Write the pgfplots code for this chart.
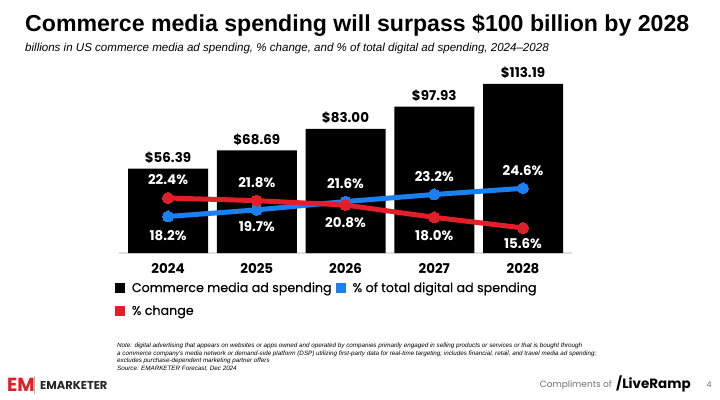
\documentclass[border=0pt]{standalone}
\usepackage{pgfplots}
\pgfplotsset{compat=1.18}
\usepackage{pgfplotstable}
\usepackage{fontspec}
\setmainfont{Poppins}
\newfontfamily\popmed[FakeBold=0.35]{Poppins}
\newfontfamily\arial{Liberation Sans}
\definecolor{emred}{RGB}{226,30,40}
\definecolor{emblue}{RGB}{26,128,240}
\pgfplotstableread{
x y lab dy
0 18.2 18.2 -19
1 19.7 19.7 -17
2 21.6 21.6 18
3 23.2 23.2 18
4 24.6 24.6 18
}\bluetable
\pgfplotstableread{
x y lab dy
0 22.4 22.4 18
1 21.8 21.8 18
2 20.8 20.8 -18
3 18.0 18.0 -18
4 15.6 15.6 -16
}\redtable
\begin{document}
\begin{tikzpicture}[x=1bp,y=1bp]
\path[use as bounding box, fill=white] (0,0) rectangle (720,399);
\node[anchor=base west, inner sep=0, font=\arial\bfseries\fontsize{23.2}{25}\selectfont] at (25,368) {Commerce media spending will surpass \$100 billion by 2028};
\node[anchor=base west, inner sep=0, font=\arial\itshape\fontsize{11.6}{13}\selectfont] at (25,348) {billions in US commerce media ad spending, \% change, and \% of total digital ad spending, 2024–2028};

\begin{axis}[at={(119.2bp,146bp)}, anchor=south west, scale only axis,
  width=452.6bp, height=170bp,
  xmin=-0.55, xmax=4.55, ymin=0, ymax=113.7, clip=false,
  axis x line*=bottom, hide y axis,
  x axis line style={-, draw=black!12, line width=1.2bp},
  xtick={0,1,2,3,4},
  xticklabels={2024,2025,2026,2027,2028},
  major tick length=0,
  xticklabel style={anchor=base, yshift=-20bp, font=\bfseries\fontsize{13.5}{15}\selectfont, inner sep=0},
  ybar, bar width=80bp,
  point meta=explicit symbolic,
  nodes near coords={\$\pgfplotspointmeta},
  every node near coord/.append style={anchor=base, yshift=6bp, font=\bfseries\fontsize{13.5}{15}\selectfont, text=black, inner sep=0},
]
\addplot[fill=black, draw=none] coordinates {(0,56.39) [56.39] (1,68.69) [68.69] (2,83.00) [83.00] (3,97.93) [97.93] (4,113.19) [113.19]};
\end{axis}

\begin{axis}[at={(119.2bp,146bp)}, anchor=south west, scale only axis,
  width=452.6bp, height=170bp,
  xmin=-0.55, xmax=4.55, ymin=9.9, ymax=48.54, clip=false,
  hide axis,
  point meta=explicit symbolic,
  visualization depends on={\thisrow{dy} \as \dy},
  nodes near coords={\pgfplotspointmeta\%},
  every node near coord/.append style={anchor=center, yshift=\dy bp, font=\bfseries\fontsize{13.5}{15}\selectfont, text=white, inner sep=0},
  legend image code/.code={\fill[#1, draw=none] (0bp,-5bp) rectangle (10bp,5bp);},
  legend columns=2,
  legend cell align=left,
  legend style={at={(axis description cs:-0.01,-0.16)}, anchor=north west, draw=none, fill=none, inner sep=0pt,
    font=\popmed\fontsize{12.7}{14}\selectfont, row sep=8bp,
    /tikz/every even column/.append style={column sep=2bp}},
]
\addlegendimage{fill=black, draw=none}
\addlegendentry{\hspace{5bp}Commerce media ad spending}
\addplot[emblue, line width=5bp, mark=*, mark size=5.5bp, mark options={line width=0pt}] table[x=x, y=y, meta=lab] {\bluetable};
\addlegendentry{\hspace{5bp}\% of total digital ad spending}
\addplot[emred, line width=5bp, mark=*, mark size=5.5bp, mark options={line width=0pt}] table[x=x, y=y, meta=lab] {\redtable};
\addlegendentry{\hspace{5bp}\% change}
\end{axis}

\begin{scope}[font=\arial\itshape\fontsize{6.3}{7}\selectfont, every node/.style={anchor=base west, inner sep=0}]
\node at (117,52) {Note: digital advertising that appears on websites or apps owned and operated by companies primarily engaged in selling products or services or that is bought through};
\node at (117,44) {a commerce company’s media network or demand-side platform (DSP) utilizing first-party data for real-time targeting; includes financial, retail, and travel media ad spending;};
\node at (117,37) {excludes purchase-dependent marketing partner offers};
\node at (117,29) {Source: EMARKETER Forecast, Dec 2024};
\end{scope}

\node[anchor=west, inner sep=0, text=emred, font=\bfseries\fontsize{19}{20}\selectfont] at (7,14) {EM};
\draw[black!30, line width=0.6bp] (34,5) -- (34,23);
\node[anchor=west, inner sep=0, text=black!85, font=\bfseries\fontsize{11.5}{12}\selectfont] at (40,14) {EMARKETER};
\node[anchor=east, inner sep=0, text=black!55, font=\fontsize{9}{11}\selectfont] at (612,14) {Compliments of};
\node[anchor=west, inner sep=0, text=black, font=\bfseries\fontsize{13.5}{15}\selectfont] at (616,15) {/LiveRamp};
\node[anchor=center, inner sep=0, text=black!55, font=\fontsize{8}{9}\selectfont] at (709,14) {4};
\end{tikzpicture}
\end{document}
